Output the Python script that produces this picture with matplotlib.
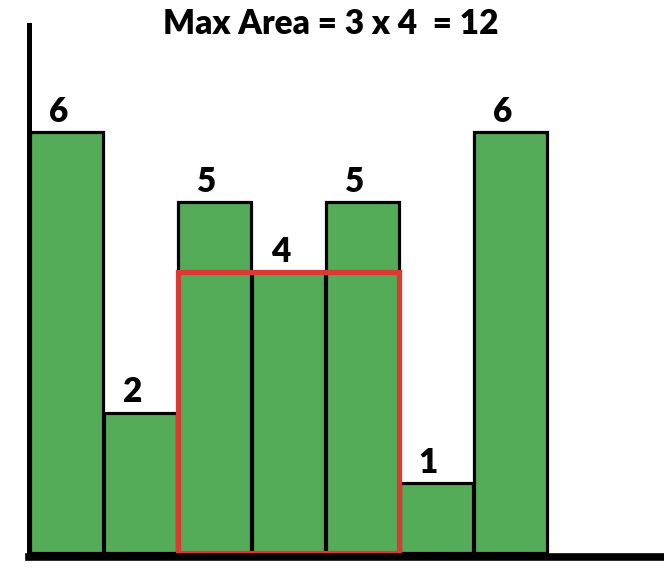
import matplotlib
matplotlib.use("Agg")
import matplotlib.pyplot as plt
from matplotlib.patches import Rectangle

heights = [6, 2, 5, 4, 5, 1, 6]
labels = ["6", "2", "5", "4", "5", "1", "6"]
best_start, best_end = 2, 4
title = "Max Area = 3 x 4  = 12"

W, H = 664, 580
fig = plt.figure(figsize=(W / 100, H / 100), dpi=100)
# axes in pixel terms: left 29, right 664, top 25, bottom 557
ax = fig.add_axes([29 / W, (H - 557) / H, (664 - 29) / W, (557 - 25) / H])

bw = 0.98
x = list(range(len(heights)))
ax.bar(x, heights, width=bw, color="#55AC58", edgecolor="black", linewidth=2.3, zorder=2)

ax.set_xlim(-0.507, 8.074)
ax.set_ylim(-0.057, 7.52)

font = ["Lato", "DejaVu Sans"]
for xi, h, lab in zip(x, heights, labels):
    ax.annotate(lab, (xi - 0.11, h), xytext=(0, 3), textcoords="offset points",
                ha="center", va="bottom", fontsize=24, fontweight="heavy",
                family=font, zorder=4)

rh = min(heights[best_start:best_end + 1])
rect = Rectangle((best_start - bw / 2, 0), (best_end - best_start) + bw, rh,
                 fill=False, edgecolor="#D93A34", linewidth=3.8, zorder=3)
ax.add_patch(rect)

for s in ["top", "right"]:
    ax.spines[s].set_visible(False)
ax.spines["left"].set_linewidth(3.6)
ax.spines["bottom"].set_linewidth(5.5)
ax.spines["left"].set_zorder(5)
ax.spines["bottom"].set_zorder(5)
ax.set_xticks([])
ax.set_yticks([])

fig.text(331 / W, 1 - 24 / H, title, ha="center", va="center", fontsize=24,
         fontweight="heavy", family=font)

fig.savefig("out.png", dpi=100)
